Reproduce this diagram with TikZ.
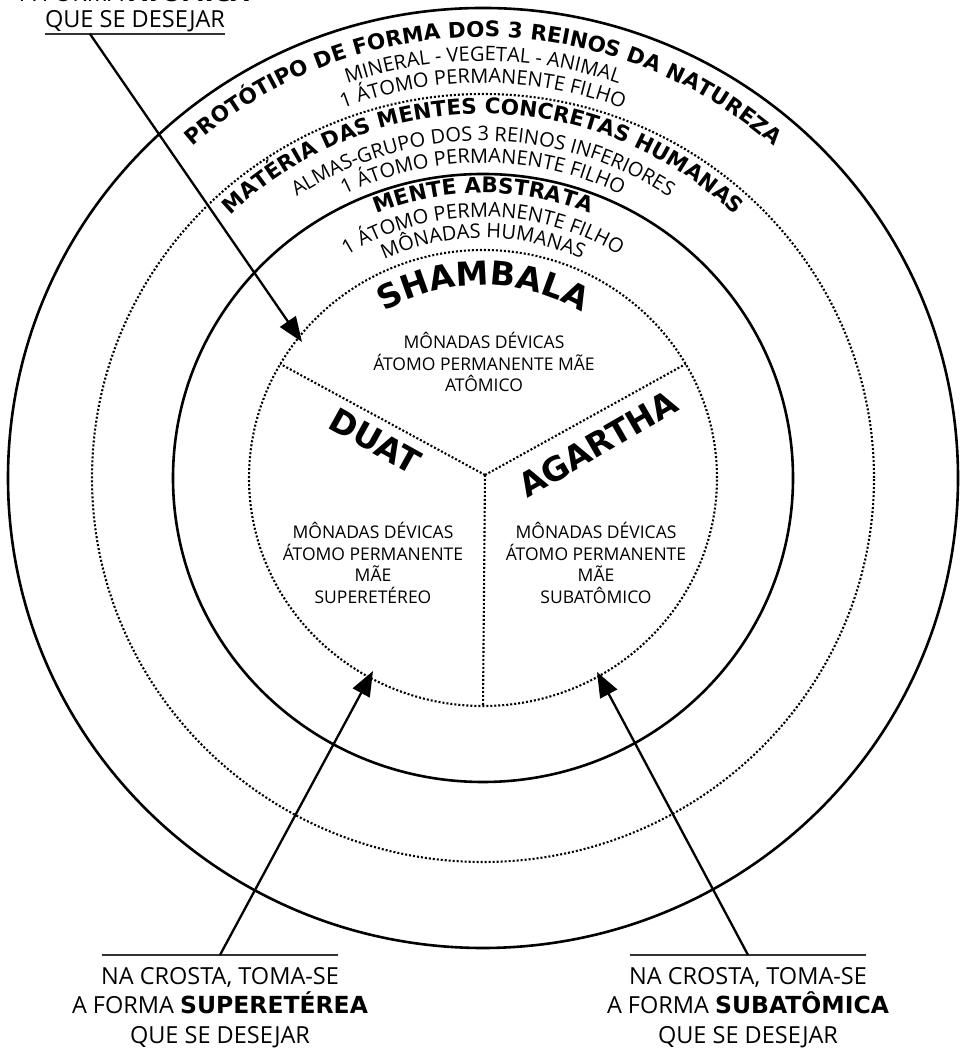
\documentclass[tikz,border=0pt]{standalone}
\usepackage{fontspec}
\setmainfont{Open Sans}
\newfontfamily\heavyfont{DejaVu Sans}
\usetikzlibrary{positioning,arrows.meta,decorations.text}

\newcommand{\heavy}[1]{{\heavyfont\bfseries #1}}
\newcommand{\ringtitle}{\heavyfont\bfseries\fontsize{21.5}{21.5}\selectfont}
\newcommand{\ringbody}{\fontsize{20}{20}\selectfont}
\newcommand{\realmfont}{\heavyfont\bfseries\fontsize{33}{33}\selectfont}

\begin{document}
\begin{tikzpicture}[x=1pt, y=1pt,
    ring/.style={draw, line width=2.6pt},
    dotring/.style={draw, line width=2.1pt, dash pattern=on 2pt off 2pt},
    arctext/.style={decorate, decoration={text along path, text align=center, text={#1}}},
    realm/.style={font=\realmfont, inner sep=0pt},
    info/.style={align=center, inner sep=0pt, font=\fontsize{17.5}{21.5}\selectfont},
    crosta/.style={align=center, inner sep=0pt, font=\fontsize{23.5}{29.5}\selectfont},
    bar/.style={line width=2.6pt, black!80},
    pointer/.style={line width=2.3pt, -{Triangle[length=25pt, width=19pt]}}
  ]
  \useasboundingbox (0,0) rectangle (961,1048);
  \coordinate (C) at (483,570);
  \coordinate (J) at (485,573);
  \coordinate (tipT) at (302,706);
  \coordinate (tipL) at (373,377);
  \coordinate (tipR) at (597,376);

  % rings
  \draw[ring] (C) ellipse [x radius=475, y radius=470];
  \draw[dotring] (C) ellipse [x radius=391, y radius=384];
  \draw[ring] (C) ellipse [x radius=310, y radius=304];
  \draw[dotring] (C) ellipse [x radius=234, y radius=228];

  % three realms
  \draw[dotring] (J) -- ([shift={(150:234 and 228)}]C);
  \draw[dotring] (J) -- ([shift={(30:234 and 228)}]C);
  \draw[dotring] (J) -- ([shift={(270:234 and 228)}]C);

  \path[arctext={|\ringtitle|PROTÓTIPO DE FORMA DOS 3 REINOS DA NATUREZA}] ([shift={(178:441)}]C) arc[start angle=178, end angle=2, radius=441];
  \path[arctext={|\ringbody|MINERAL - VEGETAL - ANIMAL}] ([shift={(178:417)}]C) arc[start angle=178, end angle=2, radius=417];
  \path[arctext={|\ringbody|1 ÁTOMO PERMANENTE FILHO}] ([shift={(178:395)}]C) arc[start angle=178, end angle=2, radius=395];

  \path[arctext={|\ringtitle|MATÉRIA DAS MENTES CONCRETAS HUMANAS}] ([shift={(178:364)}]C) arc[start angle=178, end angle=2, radius=364];
  \path[arctext={|\ringbody|ALMAS-GRUPO DOS 3 REINOS INFERIORES}] ([shift={(178:337)}]C) arc[start angle=178, end angle=2, radius=337];
  \path[arctext={|\ringbody|1 ÁTOMO PERMANENTE FILHO}] ([shift={(178:315)}]C) arc[start angle=178, end angle=2, radius=315];

  \path[arctext={|\ringtitle|MENTE ABSTRATA}] ([shift={(178:285)}]C) arc[start angle=178, end angle=2, radius=285];
  \path[arctext={|\ringbody|1 ÁTOMO PERMANENTE FILHO}] ([shift={(178:261)}]C) arc[start angle=178, end angle=2, radius=261];
  \path[arctext={|\ringbody|MÔNADAS HUMANAS}] ([shift={(178:240)}]C) arc[start angle=178, end angle=2, radius=240];

  \path[arctext={|\realmfont|SHAMBALA}] ([shift={(178:193)}]C) arc[start angle=178, end angle=2, radius=193];
  \node[realm, rotate=-29] (duat) at (375,607) {DUAT};
  \node[realm, rotate=30] (agartha) at (598,604) {AGARTHA};

  \node[info] (shambalaInfo) at (484,686) {MÔNADAS DÉVICAS\\ÁTOMO PERMANENTE MÃE\\ATÔMICO};
  \node[info] (duatInfo) at (373,485) {MÔNADAS DÉVICAS\\ÁTOMO PERMANENTE\\MÃE\\SUPERETÉREO};
  \node[info] (agarthaInfo) at (596,485) {MÔNADAS DÉVICAS\\ÁTOMO PERMANENTE\\MÃE\\SUBATÔMICO};

  % captions and pointers
  \node[crosta, anchor=base] (desejarT) at (135,1020) {QUE SE DESEJAR};
  \node[crosta, above=26pt of desejarT.base, anchor=base] (atomicaT) {A FORMA \heavy{ATÔMICA}};
  \node[crosta, anchor=north] (crostaL) at (220,81) {NA CROSTA, TOMA-SE\\A FORMA \heavy{SUPERETÉREA}\\QUE SE DESEJAR};
  \node[crosta, anchor=north] (crostaR) at (748,81) {NA CROSTA, TOMA-SE\\A FORMA \heavy{SUBATÔMICA}\\QUE SE DESEJAR};

  \draw[bar] ([yshift=-6pt]desejarT.base west) -- ([yshift=-6pt]desejarT.base east);
  \draw[bar] ([xshift=-118pt, yshift=12pt]crostaL.north) -- ([xshift=118pt, yshift=12pt]crostaL.north);
  \draw[bar] ([xshift=-118pt, yshift=12pt]crostaR.north) -- ([xshift=118pt, yshift=12pt]crostaR.north);

  \draw[pointer] ([xshift=-45pt, yshift=-6pt]desejarT.base) -- (tipT);
  \draw[pointer] ([yshift=12pt]crostaL.north) -- (tipL);
  \draw[pointer] ([yshift=12pt]crostaR.north) -- (tipR);
\end{tikzpicture}
\end{document}
